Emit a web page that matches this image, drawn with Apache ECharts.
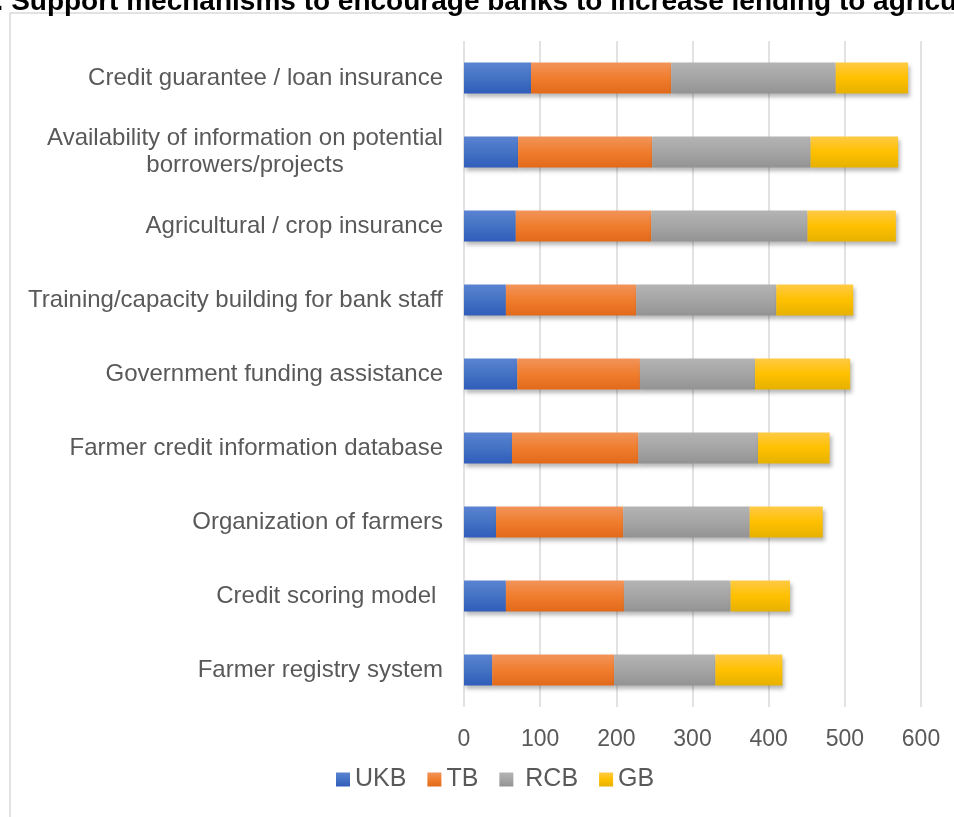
<!DOCTYPE html>
<html>
<head>
<meta charset="utf-8">
<script src="https://cdn.jsdelivr.net/npm/echarts@6/dist/echarts.min.js"></script>
<style>
  html, body { margin: 0; padding: 0; background: #fff; }
  #chart { width: 954px; height: 817px; }
</style>
</head>
<body>
<div id="chart"></div>
<script>
// categories, top to bottom
const categories = [
  'Credit guarantee / loan insurance',
  'Availability of information on potential\nborrowers/projects',
  'Agricultural / crop insurance',
  'Training/capacity building for bank staff',
  'Government funding assistance',
  'Farmer credit information database',
  'Organization of farmers',
  'Credit scoring model ',
  'Farmer registry system'
];

const ukb = [88, 71, 68, 55, 70, 63, 42, 55, 37];
const tb  = [184, 176, 178, 171, 161, 166, 167, 155, 160];
const rcb = [216, 208, 205, 184, 151, 157, 166, 140, 133];
const gb  = [95, 115, 116, 101, 125, 94, 96, 78, 88];

const xTicks = [0, 100, 200, 300, 400, 500, 600];

const chart = echarts.init(document.getElementById('chart'));

// vertical gradient like the office-style bar fill
const grad = (top, mid, bottom) => new echarts.graphic.LinearGradient(0, 0, 0, 1, [
  {offset: 0, color: top},
  {offset: 0.5, color: mid},
  {offset: 1, color: bottom}
]);

const makeSeries = (name, data, fill) => ({
  name: name,
  type: 'bar',
  stack: 'total',
  barWidth: 31,
  data: data,
  itemStyle: {
    color: fill,
    shadowColor: 'rgba(0,0,0,0.28)',
    shadowBlur: 4,
    shadowOffsetX: 2,
    shadowOffsetY: 3
  },
  emphasis: {disabled: true}
});

chart.setOption({
  animation: false,
  backgroundColor: '#fff',
  textStyle: {fontFamily: 'Liberation Sans, Arial, sans-serif'},
  graphic: [
    {
      type: 'rect',
      z: -10,
      shape: {x: 10, y: 13, width: 1000, height: 900},
      style: {fill: 'none', stroke: '#d9d9d9', lineWidth: 1.5}
    },
    {
      type: 'text',
      x: -20,
      y: 16,
      style: {
        text: '7. Support mechanisms to encourage banks to increase lending to agriculture',
        font: 'bold 28px "Liberation Sans", Arial, sans-serif',
        fill: '#000',
        verticalAlign: 'bottom'
      }
    }
  ],
  grid: {left: 464, right: 33, top: 41, bottom: 110},
  legend: {
    left: 331,
    top: 762,
    itemWidth: 14,
    itemHeight: 14,
    itemGap: 21,
    icon: 'rect',
    formatter: n => n === 'RCB' ? ' RCB' : n,
    textStyle: {fontSize: 25, color: '#595959'},
    data: ['UKB', 'TB', 'RCB', 'GB']
  },
  xAxis: {
    type: 'value',
    min: 0,
    max: 600,
    interval: 100,
    axisLine: {show: false},
    axisTick: {show: false},
    axisLabel: {
      fontSize: 23,
      color: '#595959',
      margin: 21,
      formatter: v => xTicks.includes(v) ? String(v) : ''
    },
    splitLine: {show: true, lineStyle: {color: '#d9d9d9', width: 1.5}}
  },
  yAxis: {
    type: 'category',
    inverse: true,
    data: categories,
    axisLine: {show: false},
    axisTick: {show: false},
    axisLabel: {
      fontSize: 24,
      color: '#595959',
      margin: 21,
      lineHeight: 27,
      formatter: v => {
        const parts = v.split('\n');
        if (parts.length === 1) return v;
        return parts.map(p => '{c|' + p + '}').join('\n');
      },
      rich: {
        c: {width: 396, align: 'center', fontSize: 24, color: '#595959', lineHeight: 27}
      }
    }
  },
  series: [
    makeSeries('UKB', ukb, grad('#5b83d2', '#4472c4', '#2f5dba')),
    makeSeries('TB', tb, grad('#f2945a', '#f07d2e', '#e2691a')),
    makeSeries('RCB', rcb, grad('#b4b4b4', '#a5a5a5', '#939393')),
    makeSeries('GB', gb, grad('#ffca45', '#ffc000', '#e6b100'))
  ]
});
</script>
</body>
</html>
